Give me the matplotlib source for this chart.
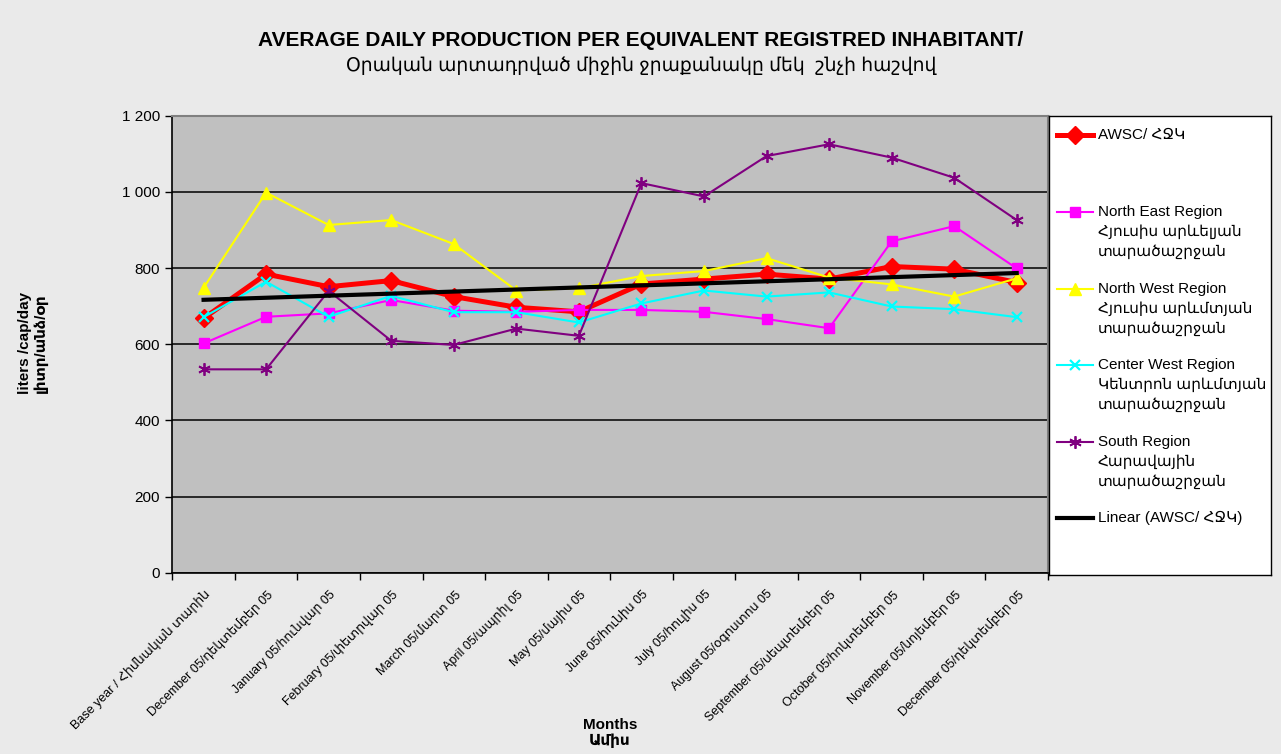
import numpy as np
import matplotlib
matplotlib.use("Agg")
import matplotlib.pyplot as plt
from matplotlib.ticker import FixedLocator, FuncFormatter

plt.rcParams['font.family'] = ['Liberation Sans', 'DejaVu Sans']

# data
months = ["Base year / Հիմնական տարին", "December 05/դեկտեմբեր 05",
          "January 05/հունվար 05", "February 05/փետրվար 05",
          "March 05/մարտ 05", "April 05/ապրիլ 05", "May 05/մայիս 05",
          "June 05/հունիս 05", "July 05/հուլիս 05", "August 05/օգոստոս 05",
          "September 05/սեպտեմբեր 05", "October 05/հոկտեմբեր 05",
          "November 05/նոյեմբեր 05", "December 05/դեկտեմբեր 05"]
awsc = [668, 784, 751, 767, 725, 697, 685, 758, 771, 784, 771, 804, 797, 762]
north_east = [602, 672, 681, 716, 688, 685, 690, 690, 685, 666, 642, 870, 910, 799]
north_west = [748, 998, 913, 926, 863, 741, 747, 779, 792, 826, 775, 757, 725, 773]
center_west = [671, 764, 672, 727, 684, 684, 657, 707, 741, 725, 736, 699, 692, 671]
south = [534, 534, 740, 609, 598, 641, 622, 1023, 988, 1094, 1125, 1090, 1037, 926]

labels = ["AWSC/ ՀՋԿ",
          "North East Region\nՀյուսիս արևելյան\nտարածաշրջան",
          "North West Region\nՀյուսիս արևմտյան\nտարածաշրջան",
          "Center West Region\nԿենտրոն արևմտյան\nտարածաշրջան",
          "South Region\nՀարավային\nտարածաշրջան",
          "Linear (AWSC/ ՀՋԿ)"]

W, H = 1281, 754
fig = plt.figure(figsize=(W / 100, H / 100), dpi=100, facecolor='#EAEAEA')
ax = fig.add_axes([172.3 / W, 1 - 572.7 / H, 875.7 / W, 457 / H])
ax.set_facecolor('#C0C0C0')

x = np.arange(len(months))
styles = [
    dict(color='#FF0000', lw=3.6, marker='D', ms=9.5, mec='#FF0000'),
    dict(color='#FF00FF', lw=1.5, marker='s', ms=7.5, mec='#FF00FF'),
    dict(color='#FFFF00', lw=1.5, marker='^', ms=8.5, mec='#FFFF00'),
    dict(color='#00FFFF', lw=1.5, marker='x', ms=7.5, mew=1.6),
    dict(color='#800080', lw=1.5, marker=(6, 2, 0), ms=9, mew=1.3),
]
series = [awsc, north_east, north_west, center_west, south]
for s, st in zip(series, styles):
    ax.plot(x, s, zorder=3, clip_on=False, **st)

# linear trend of AWSC
k, b = np.polyfit(x, awsc, 1)
ax.plot(x, k * x + b, color='black', lw=3, zorder=4)

ax.set_xlim(-0.5, len(months) - 0.5)
ax.set_ylim(0, 1200)
ax.yaxis.set_major_locator(FixedLocator(range(0, 1201, 200)))
ax.yaxis.set_major_formatter(FuncFormatter(lambda v, p: f"{int(v):,}".replace(",", " ")))
ax.grid(axis='y', color='black', lw=1.1)
ax.set_axisbelow(True)
ax.tick_params(axis='y', length=5, width=1, labelsize=11, pad=4)

ax.set_xticks(x)
ax.set_xticklabels(months, rotation=45, ha='right', va='top',
                   rotation_mode='anchor', fontsize=9)
ax.tick_params(axis='x', which='major', length=0, pad=11)
ax.set_xticks(np.arange(-0.5, len(months)), minor=True)
ax.tick_params(axis='x', which='minor', length=5, width=1)

for side in ['top', 'right']:
    ax.spines[side].set_color('#808080')
    ax.spines[side].set_linewidth(1.5)
for side in ['left', 'bottom']:
    ax.spines[side].set_color('black')
    ax.spines[side].set_linewidth(1.2)

fig.text(641 / W, 1 - 40 / H, "AVERAGE DAILY PRODUCTION PER EQUIVALENT REGISTRED INHABITANT/",
         ha='center', va='center', fontsize=15, fontweight='bold')
fig.text(641 / W, 1 - 66 / H, "Օրական արտադրված միջին ջրաքանակը մեկ  շնչի հաշվով",
         ha='center', va='center', fontsize=13.5)
fig.text(33 / W, 1 - 343 / H, "liters /cap/day\nլիտր/անձ/օր", rotation=90,
         ha='center', va='center', fontsize=11, fontweight='bold', linespacing=1.1)
fig.text(610 / W, 1 - 733 / H, "Months\nԱմիս", ha='center', va='center',
         fontsize=11, fontweight='bold', linespacing=1.1)

# legend box
lx0, ly0, lx1, ly1 = 1049, 116, 1271, 575
lax = fig.add_axes([lx0 / W, 1 - ly1 / H, (lx1 - lx0) / W, (ly1 - ly0) / H])
lax.set_xlim(lx0, lx1)
lax.set_ylim(ly1, ly0)
lax.set_facecolor('white')
lax.set_xticks([])
lax.set_yticks([])
for sp in lax.spines.values():
    sp.set_color('black')
    sp.set_linewidth(1)

rows = [135, 212, 289, 365, 442, 518]
leg_styles = [dict(st) for st in styles] + [dict(color='black', lw=3)]
for ry, lab, st in zip(rows, labels, leg_styles):
    st = dict(st)
    lax.plot([1057, 1093], [ry, ry], **{k2: v for k2, v in st.items() if k2 != 'marker'})
    if 'marker' in st:
        lax.plot([1075], [ry], ls='none', **st)
    for i, line in enumerate(lab.split("\n")):
        lax.text(1098, ry + i * 20, line, ha='left', va='center', fontsize=11)

fig.savefig("out.png", dpi=100, facecolor=fig.get_facecolor())
